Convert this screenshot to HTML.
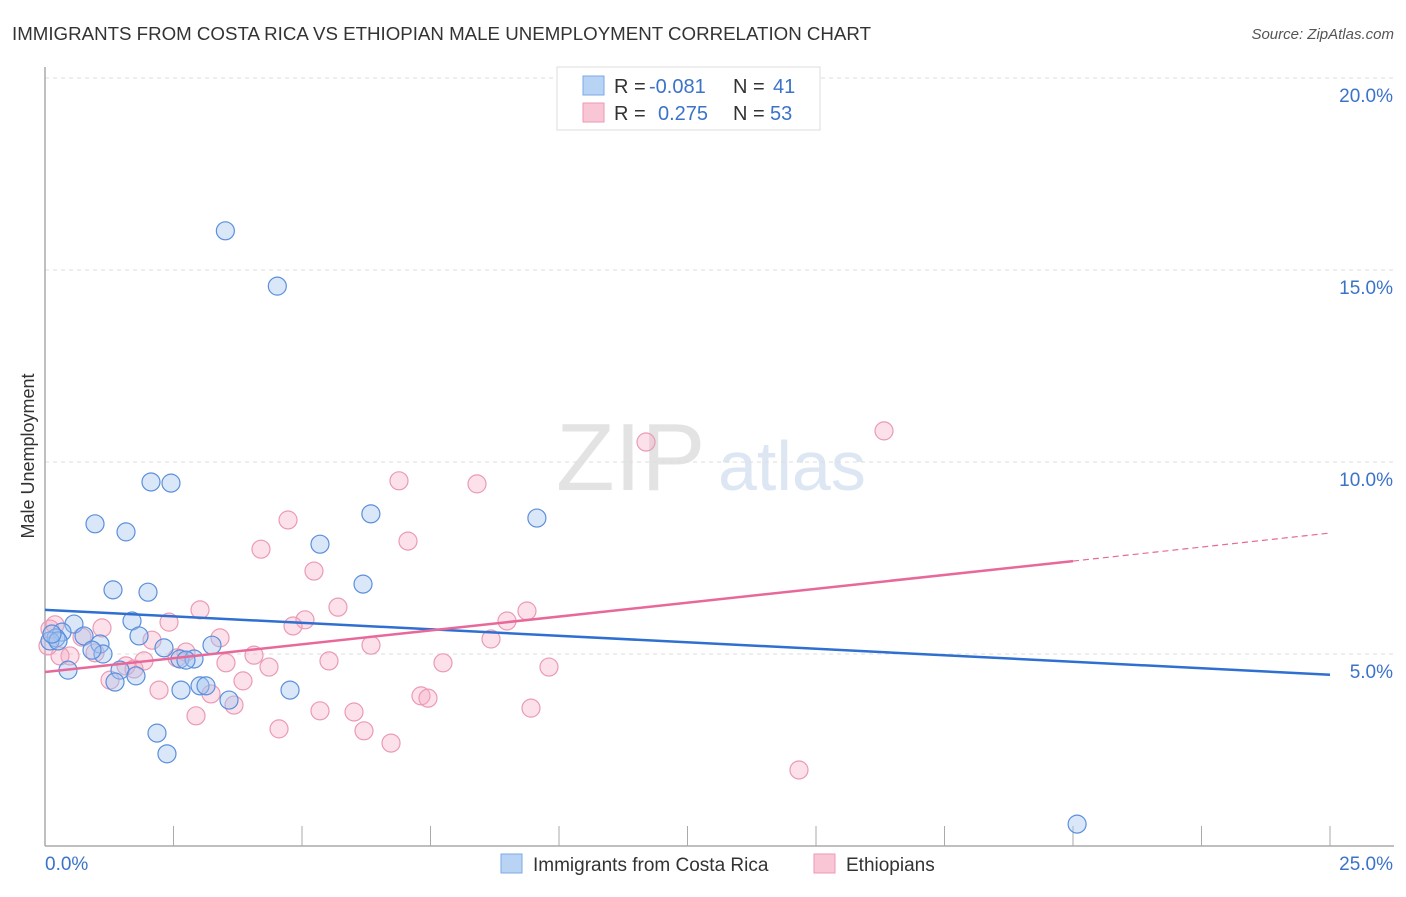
<!DOCTYPE html>
<html><head><meta charset="utf-8"><style>
body{margin:0;background:#fff;font-family:"Liberation Sans",sans-serif;}
svg text{font-family:"Liberation Sans",sans-serif;}
</style></head><body>
<svg id="c" width="1406" height="892">
<text x="12" y="40" font-size="18" fill="#333" textLength="859" lengthAdjust="spacingAndGlyphs">IMMIGRANTS FROM COSTA RICA VS ETHIOPIAN MALE UNEMPLOYMENT CORRELATION CHART</text>
<text x="1394" y="39" font-size="15" fill="#555" font-style="italic" text-anchor="end">Source: ZipAtlas.com</text>
<text x="556" y="490" font-size="96" fill="#e3e3e3" font-family="Liberation Serif">ZIP</text>
<text x="718" y="490" font-size="70" fill="#dde6f3">atlas</text>
<text x="34" y="456" font-size="18" fill="#333" transform="rotate(-90 34 456)" text-anchor="middle">Male Unemployment</text>
<g id="grid"></g><g id="pts"></g><g id="lines"></g>
<g>
<rect x="557" y="67" width="263" height="63" fill="#fff" stroke="#ddd"/>
<rect x="583" y="76" width="21" height="19" fill="#b9d3f5" stroke="#7aa8e6"/>
<rect x="583" y="103" width="21" height="19" fill="#f9c6d6" stroke="#ec9ab4"/>
<text y="93" font-size="20" fill="#333"><tspan x="614">R =</tspan><tspan x="649" fill="#3b73c9">-0.081</tspan><tspan x="733">N =</tspan><tspan x="773" fill="#3b73c9">41</tspan></text>
<text y="120" font-size="20" fill="#333"><tspan x="614">R =</tspan><tspan x="658" fill="#3b73c9">0.275</tspan><tspan x="733">N =</tspan><tspan x="770" fill="#3b73c9">53</tspan></text>
</g>
<g>
<rect x="501" y="854" width="21" height="19" fill="#b9d3f5" stroke="#7aa8e6"/>
<text x="533" y="871" font-size="19" fill="#333">Immigrants from Costa Rica</text>
<rect x="814" y="854" width="21" height="19" fill="#f9c6d6" stroke="#ec9ab4"/>
<text x="846" y="871" font-size="19" fill="#333">Ethiopians</text>
</g>
</svg>
<script>
const yTicks=[5,10,15,20];
const yTickLabels=["5.0%","10.0%","15.0%","20.0%"];
const xTickLabels=["0.0%","25.0%"];
const blueX=[3.509,4.52,2.062,2.451,0.973,1.576,6.34,9.57,5.35,1.323,2.004,6.187,1.693,0.564,0.331,0.759,1.829,0.214,1.07,0.097,1.128,2.315,3.249,2.626,2.899,2.743,1.459,0.447,1.77,1.362,3.016,2.646,3.132,4.767,3.58,2.179,2.373,20.08,0.253,0.914,0.136];
const blueY=[16.02,14.58,9.48,9.45,8.39,8.18,8.65,8.54,7.86,6.67,6.61,6.82,5.86,5.78,5.57,5.47,5.47,5.42,5.26,5.34,5.0,5.16,5.23,4.87,4.87,4.84,4.58,4.58,4.43,4.27,4.17,4.06,4.17,4.06,3.8,2.94,2.4,0.57,5.34,5.1,5.52];
const pinkX=[11.693,16.323,6.887,8.405,4.728,7.062,4.202,5.233,5.7,3.016,9.377,2.413,5.058,4.825,1.109,8.988,3.405,2.082,8.677,0.72,0.195,6.342,2.743,4.066,2.568,5.525,7.743,9.805,3.521,4.358,1.926,1.576,1.732,0.486,0.973,1.265,3.852,2.218,3.23,7.315,7.451,3.677,2.938,5.35,6.012,9.455,4.553,6.206,6.732,14.669,0.292,0.058,0.097];
const pinkY=[10.52,10.81,9.51,9.43,8.49,7.94,7.73,7.16,6.22,6.15,6.12,5.83,5.89,5.73,5.68,5.86,5.42,5.36,5.39,5.44,5.76,5.23,5.05,4.97,4.9,4.82,4.77,4.66,4.77,4.66,4.82,4.69,4.61,4.95,5.03,4.32,4.3,4.06,3.96,3.91,3.85,3.67,3.39,3.52,3.49,3.59,3.05,3.0,2.68,1.98,4.95,5.21,5.65];
const blueTrend=[0,6.15,25,4.46];
const pinkTrend=[0,4.53,20,7.42,25,8.15];
const X0=45,X1=1330,Y0=846,PX=38.4;
const sx=v=>X0+(X1-X0)*v/25, sy=v=>Y0-v*PX;
const NS="http://www.w3.org/2000/svg";
function mk(t,a,p){const e=document.createElementNS(NS,t);for(const k in a)e.setAttribute(k,a[k]);document.getElementById(p).appendChild(e);return e;}
yTicks.forEach((t,i)=>{
 const l=mk('line',{x1:X0,x2:1394,y1:sy(t),y2:sy(t),stroke:'#ddd','stroke-dasharray':'4,4'},'grid');
 
 
 const tx=mk('text',{x:1393,y:sy(t)+24,'font-size':19,fill:'#3b73c9','text-anchor':'end'},'grid');tx.textContent=yTickLabels[i];
 
 
});
const ax=mk('line',{x1:X0,x2:X0,y1:67,y2:Y0,stroke:'#aaa','stroke-width':1.5},'grid');


const bx=mk('line',{x1:X0,x2:1394,y1:Y0,y2:Y0,stroke:'#aaa','stroke-width':1.5},'grid');


for(let i=1;i<=10;i++){const t=mk('line',{x1:sx(i*2.5),x2:sx(i*2.5),y1:826,y2:Y0,stroke:'#aaa'},'grid');
 
 }
[[0,'start',45],[25,'end',1393]].forEach((d,i)=>{const t=mk('text',{x:d[2],y:870,'font-size':19,fill:'#3b73c9','text-anchor':d[1]},'grid');t.textContent=xTickLabels[i];
 
 });
pinkX.forEach((x,i)=>{const c=mk('circle',{cx:sx(x),cy:sy(pinkY[i]),r:9,fill:'rgba(246,170,196,0.35)',stroke:'#eb9ab5','stroke-width':1.2},'pts');
 
 });
blueX.forEach((x,i)=>{const c=mk('circle',{cx:sx(x),cy:sy(blueY[i]),r:9,fill:'rgba(160,195,240,0.4)',stroke:'#5b8fdc','stroke-width':1.2},'pts');
 
 });
const bl=mk('line',{x1:sx(blueTrend[0]),y1:sy(blueTrend[1]),x2:sx(blueTrend[2]),y2:sy(blueTrend[3]),stroke:'#2f6fd0','stroke-width':2.5},'lines');


const pl=mk('line',{x1:sx(pinkTrend[0]),y1:sy(pinkTrend[1]),x2:sx(pinkTrend[2]),y2:sy(pinkTrend[3]),stroke:'#e8689a','stroke-width':2.5},'lines');


const pd=mk('line',{x1:sx(pinkTrend[2]),y1:sy(pinkTrend[3]),x2:sx(pinkTrend[4]),y2:sy(pinkTrend[5]),stroke:'#e8689a','stroke-width':1.2,'stroke-dasharray':'6,4'},'lines');


</script>
</body></html>
